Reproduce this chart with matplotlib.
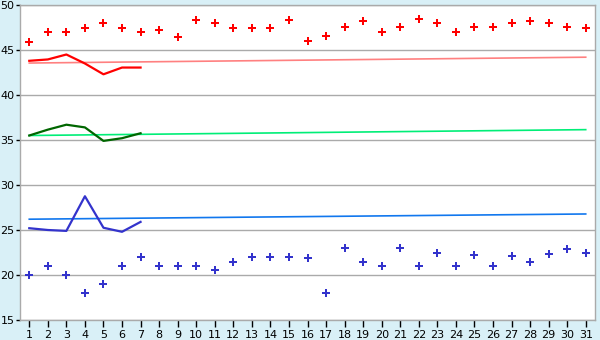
import numpy as np
import matplotlib.pyplot as plt

days = list(range(1, 32))

red_pts = [45.9, 47.0, 47.0, 47.4, 48.0, 47.4, 47.0, 47.2, 46.4, 48.3,
           48.0, 47.5, 47.4, 47.5, 48.3, 46.0, 46.6, 47.6, 48.2, 47.0,
           47.6, 48.4, 48.0, 47.0, 47.6, 47.6, 48.0, 48.2, 48.0, 47.6, 47.5]
blue_pts = [20.0, 21.0, 20.0, 18.0, 19.0, 21.0, 22.0, 21.0, 21.0, 21.0,
            20.6, 21.4, 22.0, 22.0, 22.0, 21.85, 18.0, 23.0, 21.5, 21.0,
            23.0, 21.0, 22.5, 21.0, 22.2, 21.0, 22.1, 21.4, 22.3, 22.85, 22.4]

line_days = [1, 2, 3, 4, 5, 6, 7]
red_line = [43.8, 43.95, 44.5, 43.5, 42.3, 43.05, 43.05]
green_line = [35.5, 36.15, 36.7, 36.4, 34.9, 35.2, 35.75]
blue_line = [25.2, 25.0, 24.9, 28.75, 25.25, 24.8, 25.9]

trend_days = [1, 31]
red_trend = [43.55, 44.2]
green_trend = [35.5, 36.15]
blue_trend = [26.2, 26.78]

bg = '#d9f0f7'
grid_c = '#aaaaaa'

fig = plt.figure(figsize=(6, 3.4), dpi=100, facecolor=bg)
ax = fig.add_axes([20/600, 20/340, 575/600, 315/340])
ax.set_facecolor('white')

ax.plot(trend_days, red_trend, color='#ff8080', lw=1.2)
ax.plot(trend_days, green_trend, color='#00ee77', lw=1.2)
ax.plot(trend_days, blue_trend, color='#1177ee', lw=1.2)

ax.plot(line_days, red_line, color='#ff0000', lw=1.6)
ax.plot(line_days, green_line, color='#006600', lw=1.6)
ax.plot(line_days, blue_line, color='#3333cc', lw=1.6)

ax.plot(days, red_pts, 'P', color='#ff0000', ms=5.5, mew=0, ls='none')
ax.plot(days, blue_pts, 'P', color='#3333cc', ms=5.5, mew=0, ls='none')

ax.set_xlim(0.5, 31.5)
ax.set_ylim(15, 50)
ax.set_xticks(days)
ax.set_yticks(range(15, 51, 5))
ax.yaxis.grid(True, color=grid_c, lw=1)
ax.set_axisbelow(True)
for s in ax.spines.values():
    s.set_color(grid_c)
    s.set_linewidth(1)
ax.tick_params(axis='both', colors='black', labelsize=8, width=1)
ax.tick_params(axis='x', length=5, pad=2)
ax.tick_params(axis='y', length=3, pad=1)

fig.savefig('out.png', dpi=100, facecolor=bg)
